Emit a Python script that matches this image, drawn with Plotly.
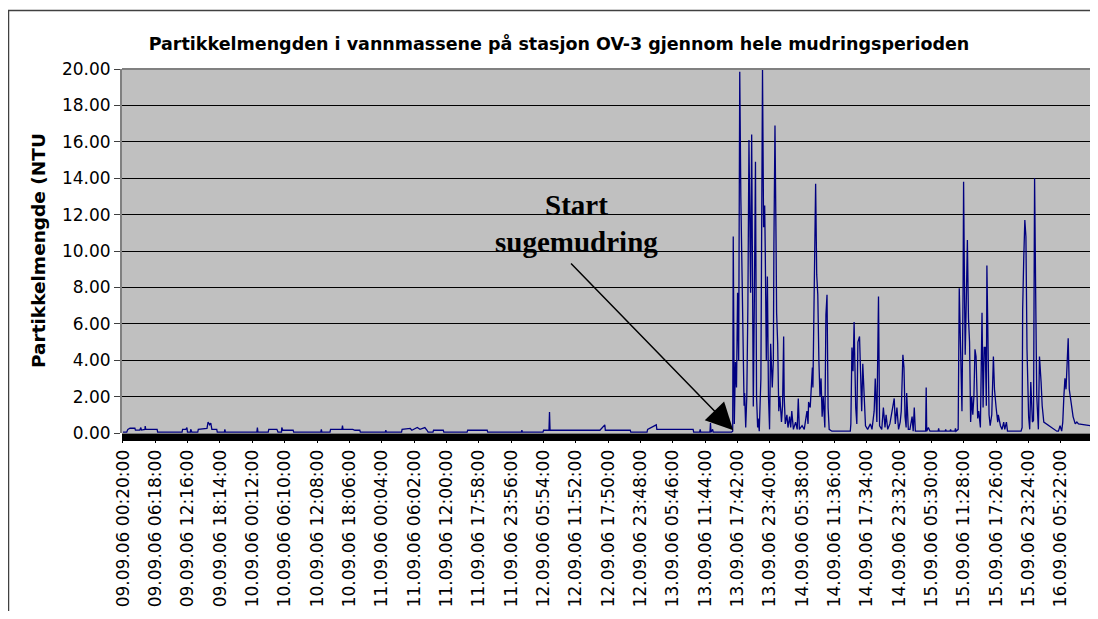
import plotly.graph_objects as go

chart_title = "Partikkelmengden i vannmassene på stasjon OV-3 gjennom hele mudringsperioden"
y_title = "Partikkelmengde (NTU"
annotation_lines = ["Start", "sugemudring"]

tick_labels = [
    "09.09.06 00:20:00", "09.09.06 06:18:00", "09.09.06 12:16:00", "09.09.06 18:14:00",
    "10.09.06 00:12:00", "10.09.06 06:10:00", "10.09.06 12:08:00", "10.09.06 18:06:00",
    "11.09.06 00:04:00", "11.09.06 06:02:00", "11.09.06 12:00:00", "11.09.06 17:58:00",
    "11.09.06 23:56:00", "12.09.06 05:54:00", "12.09.06 11:52:00", "12.09.06 17:50:00",
    "12.09.06 23:48:00", "13.09.06 05:46:00", "13.09.06 11:44:00", "13.09.06 17:42:00",
    "13.09.06 23:40:00", "14.09.06 05:38:00", "14.09.06 11:36:00", "14.09.06 17:34:00",
    "14.09.06 23:32:00", "15.09.06 05:30:00", "15.09.06 11:28:00", "15.09.06 17:26:00",
    "15.09.06 23:24:00", "16.09.06 05:22:00", "16.09.06 11:20:00",
]
label_step_hours = 358 / 60  # 5 h 58 min between axis labels

# hours since 09.09.06 00:20, quiet period before dredging
quiet_hours = [
    0.0, 0.7, 0.9, 1.3, 2.2, 2.3, 3.1, 3.3, 3.4, 4.05, 4.1, 4.2, 6.3, 6.4,
    10.9, 11.0, 11.6, 11.8, 11.9, 12.45, 12.5, 12.7, 13.8, 13.9, 15.5, 15.7,
    16.0, 16.2, 16.4, 17.3, 17.4, 18.7, 18.8, 18.9, 24.7, 24.8, 24.9, 26.8,
    26.9, 28.4, 28.6, 29.25, 29.3, 29.5, 31.4, 31.5, 36.5, 36.6, 36.7, 38.2,
    38.3, 40.4, 40.5, 40.6, 42.4, 42.8, 43.7, 43.8, 48.4, 48.5, 48.6, 51.4,
    51.5, 53.0, 53.3, 54.3, 54.8, 55.2, 55.7, 56.1, 56.3, 57.2, 57.3, 59.1,
    59.2, 63.5, 63.6, 67.2, 67.3, 73.5, 73.6, 73.7, 77.5, 77.6, 78.6, 78.7,
    78.8, 88.0, 88.9, 89.0, 93.6, 93.7, 96.7, 96.8, 98.4, 98.5, 105.2, 105.3,
    106.4, 106.5, 106.6, 108.3, 108.4, 108.5, 108.8, 108.9, 112.2,
]
quiet_ntu = [
    0.05, 0.05, 0.2, 0.26, 0.26, 0.16, 0.16, 0.3, 0.16, 0.2, 0.38, 0.2, 0.2, 0.05,
    0.05, 0.2, 0.2, 0.3, 0.05, 0.05, 0.2, 0.05, 0.05, 0.2, 0.25, 0.6,
    0.45, 0.55, 0.2, 0.2, 0.05, 0.05, 0.2, 0.05, 0.05, 0.3, 0.05, 0.05,
    0.2, 0.2, 0.05, 0.05, 0.3, 0.15, 0.15, 0.05, 0.05, 0.2, 0.05, 0.05,
    0.2, 0.2, 0.4, 0.2, 0.2, 0.15, 0.15, 0.05, 0.05, 0.15, 0.05, 0.05,
    0.2, 0.25, 0.15, 0.3, 0.2, 0.25, 0.3, 0.15, 0.05, 0.05, 0.15, 0.15,
    0.05, 0.05, 0.15, 0.15, 0.05, 0.05, 0.15, 0.05, 0.05, 0.15, 0.15, 1.15,
    0.15, 0.15, 0.45, 0.15, 0.15, 0.05, 0.05, 0.2, 0.45, 0.2, 0.2, 0.05,
    0.05, 0.2, 0.05, 0.05, 0.55, 0.05, 0.2, 0.05, 0.05,
]

# hours since 09.09.06 00:20, dredging period
active_hours = [
    112.3, 112.5, 112.6, 112.8, 113.0, 113.2, 113.4, 113.6, 113.8, 114.0,
    114.2, 114.4, 114.6, 114.7, 114.9, 115.1, 115.3, 115.5, 115.6, 115.8,
    116.0, 116.1, 116.3, 116.5, 116.7, 116.9, 117.1, 117.2, 117.4, 117.7,
    117.9, 118.0, 118.2, 118.4, 118.5, 118.7, 118.9, 119.1, 119.3, 119.5,
    119.8, 120.0, 120.1, 120.3, 120.5, 120.6, 120.8, 121.0, 121.2, 121.5,
    121.7, 121.9, 122.0, 122.2, 122.5, 122.7, 123.0, 123.2, 123.4, 123.7,
    124.1, 124.4, 124.6, 124.8, 125.3, 125.7, 126.0, 126.2, 126.4, 126.5,
    126.8, 127.0, 127.2, 127.3, 127.4, 127.6, 127.8, 128.0, 128.2, 128.4,
    128.6, 128.8, 129.0, 129.2, 129.5, 129.7, 129.9, 130.1, 130.3, 130.8,
    134.2, 134.3, 134.5, 134.7, 134.9, 135.0, 135.2, 135.4, 135.6, 135.9,
    136.1, 136.3, 136.5, 136.8, 137.0, 137.4, 137.9, 138.2, 138.6, 138.8,
    139.1, 139.4, 139.6, 140.0, 140.3, 140.6, 140.8, 141.1, 141.5, 141.9,
    142.2, 142.3, 142.5, 142.8, 143.1, 143.4, 143.6, 143.9, 144.1, 144.3,
    144.5, 144.6, 144.9, 145.2, 145.6, 145.8, 146.0, 146.2, 148.1, 148.2,
    148.3, 148.6, 148.9, 150.4, 150.5, 150.6, 151.7, 151.8, 151.9, 152.6,
    152.7, 152.8, 153.5, 153.6, 153.7, 154.1, 154.3, 154.6, 154.8, 155.0,
    155.1, 155.3, 155.4, 155.6, 155.8, 156.0, 156.2, 156.4, 156.6, 156.8,
    157.0, 157.2, 157.4, 157.7, 157.9, 158.2, 158.5, 158.7, 158.9, 159.1,
    159.3, 159.4, 159.6, 159.8, 160.0, 160.3, 160.6, 160.8, 161.1, 161.4,
    161.5, 161.9, 162.2, 162.5, 162.7, 163.0, 163.2, 165.7, 165.9, 166.0,
    166.2, 166.4, 166.6, 166.8, 167.1, 167.3, 167.5, 167.8, 168.0, 168.2,
    168.4, 168.6, 168.9, 169.1, 169.4, 169.6, 169.9, 172.3, 172.6, 172.9,
    173.2, 173.4, 173.6, 173.8, 174.0, 174.2, 174.4, 174.6, 174.9, 175.3,
    175.7, 176.0, 176.3, 181.0,
]
active_ntu = [
    0.05, 0.1, 10.8, 0.5, 3.9, 2.5, 7.7, 4.0, 19.85, 13.0,
    8.6, 6.0, 1.5, 2.2, 0.3, 2.0, 7.0, 16.1, 11.9, 7.7,
    16.4, 12.25, 1.45, 7.5, 14.9, 2.0, 0.3, 0.8, 0.1, 3.0,
    15.7, 20.0, 11.3, 12.5, 10.2, 4.0, 8.6, 2.0, 0.2, 4.9,
    2.5, 4.0, 10.3, 16.9, 10.5, 6.6, 4.9, 1.2, 2.0, 0.6,
    1.5, 5.3, 2.0, 0.5, 1.0, 0.3, 0.9, 0.3, 1.2, 0.2,
    0.6, 0.2, 1.9, 0.2, 0.4, 0.2, 0.8, 1.2, 0.5, 1.7,
    1.4, 2.3, 3.6, 2.5, 4.7, 6.3, 13.7, 8.7, 7.6, 4.0,
    2.0, 3.0, 0.9, 2.0, 0.3, 6.5, 7.6, 1.4, 0.2, 0.1,
    0.1, 0.5, 4.7, 3.4, 6.1, 4.4, 1.4, 0.5, 5.0, 5.3,
    3.5, 1.2, 3.8, 2.0, 0.4, 0.2, 0.5, 0.2, 1.2, 3.0,
    0.6, 7.5, 0.4, 0.2, 1.4, 0.3, 1.0, 0.2, 0.5, 1.2,
    1.7, 1.9, 0.5, 1.4, 0.2, 0.6, 1.2, 4.3, 3.6, 0.9,
    0.3, 2.2, 0.2, 0.2, 0.9, 0.1, 1.4, 0.1, 0.1, 2.5,
    0.1, 0.3, 0.1, 0.1, 0.25, 0.1, 0.1, 0.2, 0.1, 0.1,
    0.2, 0.1, 0.1, 0.25, 0.1, 0.2, 7.95, 3.6, 1.2, 7.7,
    13.8, 6.9, 4.3, 7.3, 10.6, 6.3, 5.0, 0.6, 2.0, 1.0,
    2.0, 4.6, 4.2, 0.8, 1.2, 0.3, 6.6, 1.4, 4.7, 4.7,
    1.5, 9.2, 4.3, 1.0, 0.4, 1.0, 4.2, 2.4, 1.4, 0.6,
    1.0, 0.4, 0.2, 0.6, 0.2, 0.6, 0.1, 0.1, 0.3, 6.8,
    9.6, 11.7, 10.8, 4.6, 0.9, 0.2, 2.8, 0.6, 0.7, 14.0,
    7.7, 2.0, 0.2, 4.2, 2.8, 1.5, 0.6, 0.1, 0.1, 0.4,
    0.1, 0.6, 2.0, 3.0, 2.4, 4.0, 5.2, 2.4, 1.7, 0.9,
    0.5, 0.6, 0.5, 0.3, 0.05, 0.05,
]

hours = quiet_hours + active_hours
ntu = quiet_ntu + active_ntu
tick_hours = [i * label_step_hours for i in range(len(tick_labels))]

# page offset: the html body adds an 8px margin around the figure
OFF = 8
W, H = 1098 - OFF, 619 - 2 * OFF
ML, MR, MT = 122 - OFF, 0, 69 - OFF
MB = H - (433 - OFF)
plot_w = W - ML - MR
plot_h = H - MT - MB
X0, X1 = -0.18, 179.9


def px_to_paper_x(px):
    return (px - OFF - ML) / plot_w


def py_to_paper_y(py):
    return (H - MB - (py - OFF)) / plot_h


fig = go.Figure()
fig.add_trace(go.Scatter(
    x=hours, y=ntu, mode="lines",
    line=dict(color="#000080", width=1.3),
    hoverinfo="skip", showlegend=False,
))

sans = "DejaVu Sans, Arial, sans-serif"
serif = "Liberation Serif, Times New Roman, serif"

fig.update_layout(
    width=W, height=H,
    margin=dict(l=ML, r=MR, t=MT, b=MB, pad=0),
    paper_bgcolor="white",
    plot_bgcolor="#C0C0C0",
    showlegend=False,
    title=dict(
        text="<b>" + chart_title + "</b>",
        font=dict(family=sans, size=17.5, color="black"),
        x=(559 - OFF) / W, xref="container", xanchor="center",
        y=1 - (44 - OFF) / H, yref="container", yanchor="middle",
    ),
    xaxis=dict(
        range=[X0, X1],
        tickmode="array", tickvals=tick_hours, ticktext=tick_labels,
        tickangle=-90,
        tickfont=dict(family=sans, size=17, color="black"),
        showgrid=False, zeroline=False, showline=False,
        ticks="outside", ticklen=9, tickcolor="black", tickwidth=1,
        automargin=False,
    ),
    yaxis=dict(
        range=[0, 20], dtick=2, tick0=0, tickformat=".2f",
        tickfont=dict(family=sans, size=17, color="black"),
        showgrid=True, gridcolor="#000000", gridwidth=1,
        zeroline=False,
        showline=True, linecolor="#808080", linewidth=2,
        ticks="outside", ticklen=6, tickcolor="#404040",
        automargin=False,
    ),
)

# dense category tick band under the axis
fig.add_shape(type="rect", xref="paper", yref="paper",
              x0=0, x1=1, y0=py_to_paper_y(441), y1=py_to_paper_y(433.5),
              fillcolor="black", line=dict(width=0), layer="above")
# plot area top border
fig.add_shape(type="line", xref="paper", yref="paper",
              x0=0, x1=1, y0=1, y1=1, line=dict(color="#808080", width=2))
# chart outer border
fig.add_shape(type="rect", xref="paper", yref="paper",
              x0=px_to_paper_x(8.5), x1=px_to_paper_x(1120),
              y0=py_to_paper_y(700), y1=py_to_paper_y(10.5),
              line=dict(color="#404040", width=1.5), fillcolor="rgba(0,0,0,0)")

# y-axis title
fig.add_annotation(
    text="<b>" + y_title + "</b>", textangle=-90,
    xref="paper", yref="paper",
    x=px_to_paper_x(38), y=py_to_paper_y(251),
    xanchor="center", yanchor="middle", showarrow=False,
    font=dict(family=sans, size=18.5, color="black"),
)

# arrow annotation
fig.add_annotation(
    x=112.6, y=0.15, xref="x", yref="y",
    ax=82.4, ay=9.4, axref="x", ayref="y",
    showarrow=True, arrowhead=2, arrowsize=3.6, arrowwidth=1.5,
    arrowcolor="black", text="",
)
fig.add_annotation(
    text="<b>" + annotation_lines[0] + "</b>",
    xref="paper", yref="paper",
    x=px_to_paper_x(576), y=py_to_paper_y(205),
    xanchor="center", yanchor="middle", showarrow=False,
    font=dict(family=serif, size=29, color="black"),
)
fig.add_annotation(
    text="<b>" + annotation_lines[1] + "</b>",
    xref="paper", yref="paper",
    x=px_to_paper_x(576), y=py_to_paper_y(242),
    xanchor="center", yanchor="middle", showarrow=False,
    font=dict(family=serif, size=29, color="black"),
)

fig.write_html("out.html")
